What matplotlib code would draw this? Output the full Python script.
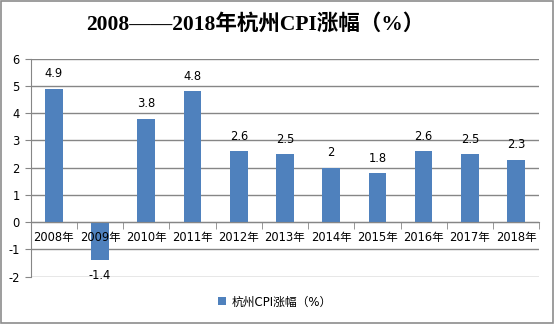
import matplotlib.pyplot as plt
from matplotlib.patches import Rectangle
from matplotlib.ticker import FixedLocator

plt.rcParams['font.family'] = ['DejaVu Sans', 'Noto Sans CJK SC']
plt.rcParams['axes.unicode_minus'] = False

years = ['2008年', '2009年', '2010年', '2011年', '2012年', '2013年',
         '2014年', '2015年', '2016年', '2017年', '2018年']
cpi = [4.9, -1.4, 3.8, 4.8, 2.6, 2.5, 2.0, 1.8, 2.6, 2.5, 2.3]
value_text = ['4.9', '-1.4', '3.8', '4.8', '2.6', '2.5', '2', '1.8', '2.6', '2.5', '2.3']
series_name = '杭州CPI涨幅（%）'

bar_color = '#4F81BD'
grid_color = '#868686'

fig = plt.figure(figsize=(5.55, 3.24), dpi=100)
fig.patches.append(Rectangle((0.001, 0.002), 0.996, 0.995, transform=fig.transFigure,
                             fill=False, edgecolor='#8c8c8c', linewidth=1.2))

ax = fig.add_axes([0.0553, 0.146, 0.9164, 0.6728])
x = list(range(len(years)))
bars = ax.bar(x, cpi, width=0.38, color=bar_color, zorder=2, label=series_name)

ax.set_xlim(-0.5, len(years) - 0.5)
ax.set_ylim(-2, 6)
ax.set_yticks(range(-2, 7))
ax.grid(axis='y', color=grid_color, linewidth=1.0)
ax.set_axisbelow(True)

for s in ['top', 'right']:
    ax.spines[s].set_visible(False)
ax.spines['left'].set_color(grid_color)
ax.spines['bottom'].set_color(grid_color)
ax.spines['bottom'].set_position(('data', 0))
ax.spines['bottom'].set_zorder(2.5)

ax.set_xticks(x)
ax.set_xticklabels(years, fontsize=8.3)
ax.tick_params(axis='x', which='major', length=0, pad=6)
ax.xaxis.set_minor_locator(FixedLocator([i - 0.5 for i in range(len(years) + 1)]))
ax.tick_params(axis='x', which='minor', length=5, color=grid_color, direction='out')
ax.tick_params(axis='y', length=4, color=grid_color, labelsize=8.3, pad=4)
ax.xaxis.set_zorder(3)

for xi, v, t in zip(x, cpi, value_text):
    if v >= 0:
        ax.annotate(t, (xi, v), xytext=(0, 6), textcoords='offset points',
                    ha='center', va='bottom', fontsize=8.3)
    else:
        ax.annotate(t, (xi, v), xytext=(0, -6), textcoords='offset points',
                    ha='center', va='top', fontsize=8.3)

fig.text(0.46, 0.925, '2008——2018年杭州CPI涨幅（%）', ha='center', va='center',
         fontsize=15.5, fontweight='bold', family=['Liberation Serif', 'Noto Sans CJK SC'])

fig.legend(handles=[bars], labels=[series_name], loc='center', bbox_to_anchor=(0.495, 0.068),
           frameon=False, fontsize=8.5, handlelength=0.7, handleheight=0.7, handletextpad=0.5)

fig.savefig('out.png', dpi=100)
